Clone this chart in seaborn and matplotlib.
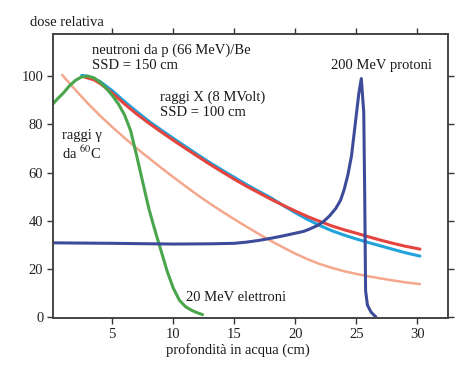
import matplotlib
matplotlib.use("Agg")
import matplotlib.pyplot as plt
import seaborn as sns

# ---- data ----
elettroni_x = [0.15, 0.5, 1, 1.5, 2, 2.5, 3, 3.5, 4, 4.5, 5, 5.5, 6, 6.5, 7, 7.5, 8, 8.5, 9, 9.5, 10, 10.5, 11, 11.5, 12, 12.4]
elettroni_y = [88.5, 90.5, 93, 96, 98.3, 99.7, 100, 99.3, 97.5, 95, 92, 88.5, 84, 77.5, 67, 56, 45, 36, 27.5, 19, 12, 7, 4.3, 2.8, 1.7, 1]

gamma_x = [0.9, 2, 3, 4, 5, 6, 7, 8, 9, 10, 11, 12, 13, 14, 15, 16, 17, 18, 19, 20, 21, 22, 23, 24, 25, 26, 27, 28, 29, 30.2]
gamma_y = [100.5, 94.2, 88.7, 83.6, 78.9, 74.4, 70.1, 66, 62, 58.1, 54.3, 50.6, 47.1, 43.8, 40.6, 37.5, 34.5, 31.6, 28.9, 26.3, 24, 22, 20.4, 19, 17.9, 16.9, 16, 15.2, 14.4, 13.7]

neutroni_x = [2.5, 3, 4, 5, 6, 7, 8, 9, 10, 11, 12, 13, 14, 15, 16, 17, 18, 19, 20, 21, 22, 23, 24, 25, 26, 27, 28, 29, 30.2]
neutroni_y = [100.3, 100, 97.8, 94, 89.5, 85.3, 81.3, 77.7, 74.2, 70.8, 67.4, 64.1, 61, 58, 55, 52.2, 49.5, 46.3, 43.3, 40.5, 38, 35.8, 34, 32.4, 30.9, 29.5, 28.1, 26.7, 25.3]

raggix_x = [2.8, 3.5, 4, 5, 6, 7, 8, 9, 10, 11, 12, 13, 14, 15, 16, 17, 18, 19, 20, 21, 22, 23, 24, 25, 26, 27, 28, 29, 30.2]
raggix_y = [99.5, 98.5, 97, 93, 88.5, 84.3, 80.5, 76.9, 73.4, 70, 66.7, 63.4, 60.3, 57.2, 54.3, 51.6, 48.9, 46.4, 44, 41.7, 39.7, 37.8, 36.2, 34.8, 33.3, 31.9, 30.6, 29.4, 28.2]

protoni_x = [0.15, 5, 10, 13, 15, 16, 17, 18, 19, 20, 20.7, 21.2, 21.8, 22.3, 22.8, 23.3, 23.7, 24, 24.3, 24.6, 24.9, 25.2, 25.4, 25.6, 25.68, 25.75, 25.9, 26.2, 26.6]
protoni_y = [30.8, 30.6, 30.3, 30.4, 30.6, 31.1, 31.8, 32.7, 33.7, 34.8, 35.6, 36.6, 38, 39.6, 42, 45, 48.5, 53, 59, 67, 80, 93, 99, 85, 50, 11, 5, 2, 0]

x_ticks = [5, 10, 15, 20, 25, 30]
y_ticks = [0, 20, 40, 60, 80, 100]

# ---- style ----
sns.set_theme(style="ticks")
plt.rcParams["font.family"] = ["Liberation Serif", "DejaVu Serif"]
plt.rcParams["mathtext.fontset"] = "stix"

fig = plt.figure(figsize=(4.74, 3.78), dpi=100)
ax = fig.add_axes([53 / 474, 1 - 318 / 378, (448 - 53) / 474, (318 - 34) / 378])

lw = 2.2
sns.lineplot(x=gamma_x, y=gamma_y, ax=ax, color="#f4a78c", lw=1.8, sort=False, estimator=None)
sns.lineplot(x=neutroni_x, y=neutroni_y, ax=ax, color="#22a3dc", lw=lw, sort=False, estimator=None)
sns.lineplot(x=raggix_x, y=raggix_y, ax=ax, color="#e5443e", lw=lw, sort=False, estimator=None)
sns.lineplot(x=elettroni_x, y=elettroni_y, ax=ax, color="#4aa54c", lw=lw, sort=False, estimator=None)
sns.lineplot(x=protoni_x, y=protoni_y, ax=ax, color="#3d4c9a", lw=lw, sort=False, estimator=None)

ax.set_xlim(0.15, 32.5)
ax.set_ylim(-0.4, 117.5)
ax.set_xticks(x_ticks)
ax.set_yticks(y_ticks)
ax.tick_params(axis="both", which="both", direction="out", length=4, width=1,
               colors="#333333", labelsize=10.5, top=True, right=True,
               labeltop=False, labelright=False, pad=3)
ax.tick_params(axis="both", labelcolor="#222222")
for s in ax.spines.values():
    s.set_visible(True)
    s.set_linewidth(1.4)
    s.set_color("#444444")
ax.set_xlabel("")
ax.set_ylabel("")

fs = 10.5
tc = "#1a1a1a"
ax.text(3.36, 110.8, "neutroni da p (66 MeV)/Be", fontsize=fs, color=tc, va="center", ha="left")
ax.text(3.36, 104.6, "SSD = 150 cm", fontsize=fs, color=tc, va="center", ha="left")
ax.text(8.93, 91.3, "raggi X (8 MVolt)", fontsize=fs, color=tc, va="center", ha="left")
ax.text(8.93, 85.0, "SSD = 100 cm", fontsize=fs, color=tc, va="center", ha="left")
ax.text(0.9, 75.5, "raggi γ", fontsize=fs, color=tc, va="center", ha="left")
ax.text(0.9, 68.0, "da $^{60}$C", fontsize=fs, color=tc, va="center", ha="left")
ax.text(22.9, 104.6, "200 MeV protoni", fontsize=fs, color=tc, va="center", ha="left")
ax.text(11.07, 8.3, "20 MeV elettroni", fontsize=fs, color=tc, va="center", ha="left")

fig.text(30 / 474, 1 - 23 / 378, "dose relativa", fontsize=fs, color=tc, va="center", ha="left")
fig.text(238 / 474, 1 - 350 / 378, "profondità in acqua (cm)", fontsize=fs, color=tc, va="center", ha="center")

fig.savefig("out.png", dpi=100)
